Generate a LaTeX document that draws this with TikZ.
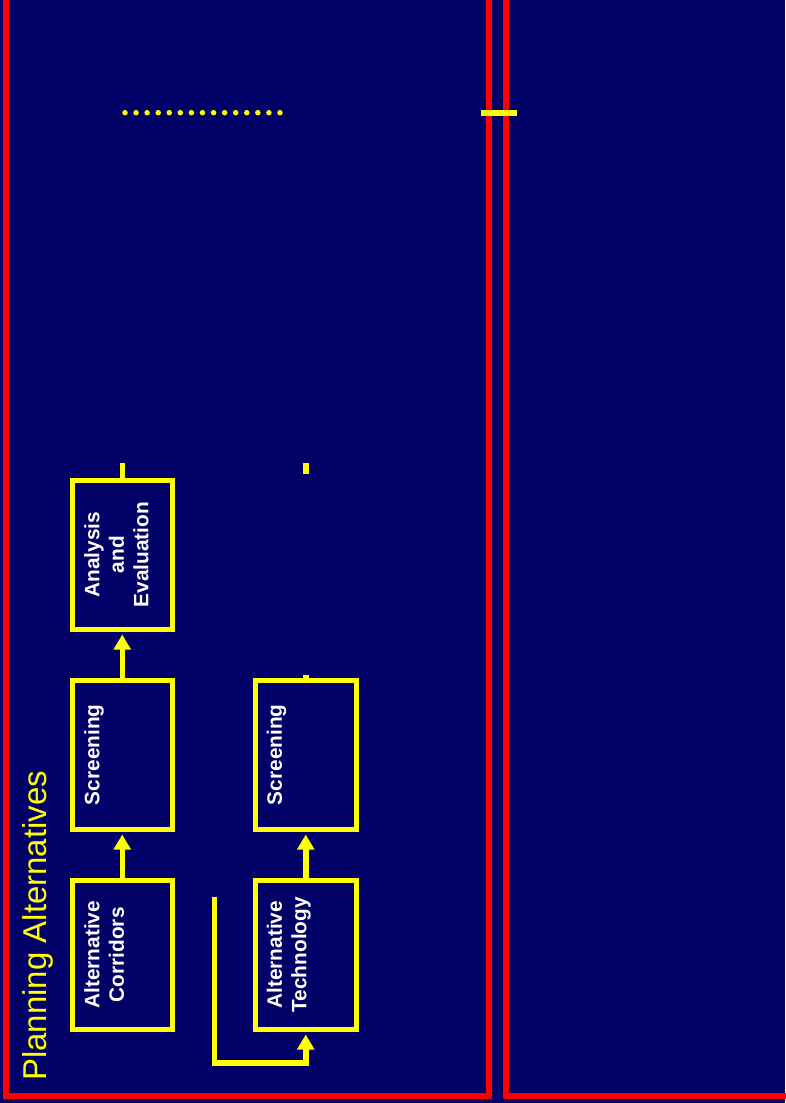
\documentclass[tikz,border=0pt]{standalone}
\usepackage{fontspec}
\setmainfont{Liberation Sans}
\usetikzlibrary{arrows.meta}
\definecolor{navy}{RGB}{0,0,102}
\definecolor{ylw}{RGB}{255,255,0}
\definecolor{rd}{RGB}{255,0,0}
\begin{document}
\begin{tikzpicture}[x=1pt,y=-1pt,
  frame/.style={draw=rd, line width=6pt},
  stepbox/.style={draw=ylw, line width=5pt, rectangle, minimum width=100.5pt, minimum height=149.5pt, inner sep=0pt},
  boxtext/.style={text=white, font=\bfseries\fontsize{20.8}{24.5}\selectfont, align=center, rotate=90, inner sep=0pt, anchor=north},
  conn/.style={draw=ylw, line width=5.5pt},
  arr/.style={conn, -{Triangle[width=16.5pt,length=15pt]}, shorten >=2.5pt},
  dotline/.style={draw=ylw, line width=5.5pt, line cap=round, dash pattern=on 0pt off 11.07pt},
  titletext/.style={rotate=90, anchor=base west, text=ylw, font=\fontsize{33}{40}\selectfont, inner sep=0pt}
]
\fill[navy] (0,0) rectangle (785,1103);
\useasboundingbox (0,0) rectangle (785,1103);
% red frames
\draw[frame] (5.5,-10) -- (5.5,1095.5) -- (489,1095.5) -- (489,-10);
\draw[frame] (506,-10) -- (506,1095.5) -- (790,1095.5);
% boxes
\node[stepbox] (ac) at (122.25,954.75) {};
\node[stepbox] (sc1) at (122.25,754.75) {};
\node[stepbox] (ae) at (122.25,554.75) {};
\node[stepbox] (at) at (305.75,954.75) {};
\node[stepbox] (sc2) at (305.75,754.75) {};
% box texts
\node[boxtext] (acT) at ([xshift=14.5pt]ac.west) {Alternative\\Corridors};
\node[boxtext] (sc1T) at ([xshift=14.5pt]sc1.west) {Screening};
\node[boxtext] (aeT) at ([xshift=14.5pt]ae.west) {Analysis\\and\\Evaluation};
\node[boxtext] (atT) at ([xshift=13.5pt]at.west) {Alternative\\Technology};
\node[boxtext] (sc2T) at ([xshift=13.5pt]sc2.west) {Screening};
% arrows
\draw[arr] (ac.north) -- (sc1.south);
\draw[arr] (sc1.north) -- (ae.south);
\draw[arr] (at.north) -- (sc2.south);
% L connector
\coordinate (lstart) at (214.5,897);
\coordinate (lcorner) at (214.5,1063);
\draw[arr] (lstart) -- (lcorner) -| (at.south);
% stubs
\coordinate (aeTop) at (122.25,463);
\draw[conn] (ae.north) -- (aeTop);
\coordinate (s2a) at (306,463);
\coordinate (s2b) at (306,474);
\draw[conn] (s2a) -- (s2b);
\coordinate (sc2Top) at (305.75,675);
\draw[conn] (sc2.north) -- (sc2Top);
% dotted line
\coordinate (d1) at (125,112.7);
\coordinate (d2) at (281,112.7);
\draw[dotline] (d1) -- (d2);
% yellow bar
\coordinate (b1) at (481,112.8);
\coordinate (b2) at (517,112.8);
\draw[draw=ylw, line width=6pt] (b1) -- (b2);
% title
\node[titletext] (title) at (46,1081) {Planning Alternatives};
\end{tikzpicture}
\end{document}
